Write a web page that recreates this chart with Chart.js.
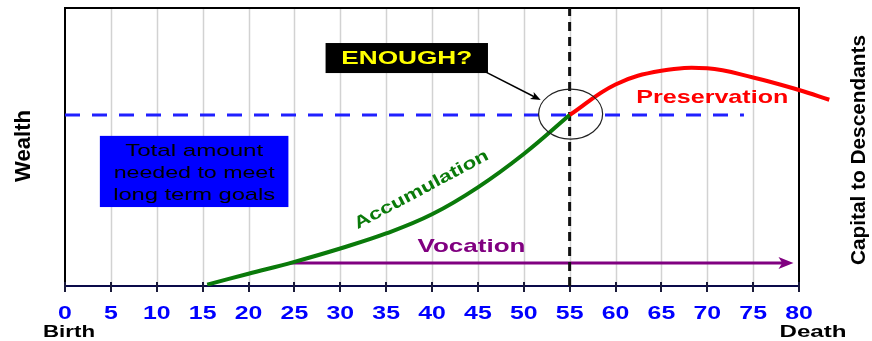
<!DOCTYPE html>
<html>
<head>
<meta charset="utf-8">
<script src="https://cdn.jsdelivr.net/npm/chart.js@4/dist/chart.umd.min.js"></script>
<style>
  html, body { margin: 0; padding: 0; background: #ffffff; }
  #wrap { width: 872px; height: 341px; }
</style>
</head>
<body>
<div id="wrap"><canvas id="c" width="872" height="341"></canvas></div>
<script>
// Age axis ticks (years)
const AGE_TICKS = [0, 5, 10, 15, 20, 25, 30, 35, 40, 45, 50, 55, 60, 65, 70, 75, 80];
// The preservation curve runs a little past the frame, so the scale reaches beyond 80
const AGE_SCALE_MAX = 84;

// Accumulation phase: wealth built up from first earnings to retirement
const ACCUM_AGES   = [15.5, 20, 25, 30, 35, 40, 45, 50, 55];
const ACCUM_WEALTH = [0.5, 4.4, 8.7, 13.5, 18.9, 25.8, 35.5, 47.5, 61.5];

// Preservation phase: after retirement, capital kept and passed on
const PRESERV_AGES   = [55, 60, 65, 70, 75, 80, 83.3];
const PRESERV_WEALTH = [61.5, 72.5, 77.4, 78.3, 75, 70.5, 67];

// Target capital ("total amount needed") and the age span it is drawn over
const GOAL_WEALTH = 61.5;
const GOAL_AGES = [0, 74];

// Retirement age (vertical marker)
const RETIRE_AGE = 55;
const WEALTH_RANGE = [0, 100];

// Working years (vocation arrow)
const VOCATION_AGES = [24.5, 79.4];
const VOCATION_LEVEL = 8.3;

const zip = (xs, ys) => xs.map((x, i) => ({ x, y: ys[i] }));

const FONT = '"Liberation Sans", Arial, sans-serif';

// Text drawn to a given width (the artwork uses wide, stretched lettering)
function fitText(ctx, str, x, y, width, font, color, angle) {
  ctx.save();
  ctx.translate(x, y);
  if (angle) ctx.rotate(angle);
  ctx.font = font;
  const m = ctx.measureText(str).width;
  ctx.scale(width / m, 1);
  ctx.textAlign = 'center';
  ctx.textBaseline = 'middle';
  ctx.fillStyle = color;
  ctx.fillText(str, 0, 0);
  ctx.restore();
}

function arrowHead(ctx, x, y, angle, len, half, color) {
  ctx.save();
  ctx.translate(x, y);
  ctx.rotate(angle);
  ctx.beginPath();
  ctx.moveTo(0, 0);
  ctx.lineTo(-len, -half);
  ctx.lineTo(-len * 0.75, 0);
  ctx.lineTo(-len, half);
  ctx.closePath();
  ctx.fillStyle = color;
  ctx.fill();
  ctx.restore();
}

const frameAndAxis = {
  id: 'frameAndAxis',
  beforeDatasetsDraw(chart) {
    const { ctx, chartArea: a, scales: { x } } = chart;
    const left = x.getPixelForValue(AGE_TICKS[0]);
    const right = x.getPixelForValue(AGE_TICKS[AGE_TICKS.length - 1]);
    ctx.save();
    // vertical grid lines
    ctx.strokeStyle = '#d2d2d2';
    ctx.lineWidth = 1.5;
    AGE_TICKS.slice(1, -1).forEach(v => {
      const px = Math.round(x.getPixelForValue(v)) + 0.5;
      ctx.beginPath();
      ctx.moveTo(px, a.top);
      ctx.lineTo(px, a.bottom);
      ctx.stroke();
    });
    // plot frame
    ctx.strokeStyle = '#000000';
    ctx.lineWidth = 2;
    ctx.beginPath();
    ctx.moveTo(left, a.bottom + 4);
    ctx.lineTo(left, a.top);
    ctx.lineTo(right, a.top);
    ctx.lineTo(right, a.bottom + 4);
    ctx.stroke();
    // base axis line
    ctx.strokeStyle = '#0a0a4a';
    ctx.lineWidth = 2;
    ctx.beginPath();
    ctx.moveTo(left, a.bottom);
    ctx.lineTo(right, a.bottom);
    ctx.stroke();
    // tick marks crossing the axis
    ctx.strokeStyle = '#1a1a3a';
    ctx.lineWidth = 2;
    AGE_TICKS.forEach(v => {
      const px = Math.round(x.getPixelForValue(v));
      ctx.beginPath();
      ctx.moveTo(px, a.bottom - 4);
      ctx.lineTo(px, a.bottom + 6);
      ctx.stroke();
    });
    // tick labels
    AGE_TICKS.forEach(v => {
      const px = x.getPixelForValue(v);
      ctx.font = 'bold 18px ' + FONT;
      const w = ctx.measureText(String(v)).width * 1.38;
      fitText(ctx, String(v), px, a.bottom + 28, w, 'bold 18px ' + FONT, '#0000ff');
    });
    ctx.restore();
  },
  afterDatasetsDraw(chart) {
    const { ctx, scales: { x, y } } = chart;
    const P = (age, w) => [x.getPixelForValue(age), y.getPixelForValue(w)];
    ctx.save();

    // "Total amount needed" box
    const [bx0, by0] = P(3.8, 54);
    const [bx1, by1] = P(24.35, 28.4);
    ctx.fillStyle = '#0000ff';
    ctx.fillRect(bx0, by0, bx1 - bx0, by1 - by0);
    const cx = (bx0 + bx1) / 2;
    fitText(ctx, 'Total amount', cx, by0 + 15, 138, '17px ' + FONT, '#000000');
    fitText(ctx, 'needed to meet', cx, by0 + 37, 161, '17px ' + FONT, '#000000');
    fitText(ctx, 'long term goals', cx, by0 + 59, 162, '17px ' + FONT, '#000000');

    // ENOUGH? callout
    const [ex0, ey0] = P(28.4, 87.4);
    const [ex1, ey1] = P(46.1, 76.6);
    ctx.fillStyle = '#000000';
    ctx.fillRect(ex0, ey0, ex1 - ex0, ey1 - ey0);
    fitText(ctx, 'ENOUGH?', (ex0 + ex1) / 2, (ey0 + ey1) / 2 + 1, 131, 'bold 19px ' + FONT, '#ffff00');

    // pointer to the crossing point
    const [ax0, ay0] = [ex1 - 2, ey1 - 1];
    const [ax1, ay1] = P(51.85, 66.9);
    ctx.strokeStyle = '#000000';
    ctx.lineWidth = 1.5;
    ctx.beginPath();
    ctx.moveTo(ax0, ay0);
    ctx.lineTo(ax1 - 4, ay1 - 2);
    ctx.stroke();
    arrowHead(ctx, ax1, ay1, Math.atan2(ay1 - ay0, ax1 - ax0), 10, 4, '#000000');

    // circle at the goal / retirement crossing
    const [ccx, ccy] = P(RETIRE_AGE, GOAL_WEALTH);
    ctx.strokeStyle = '#222222';
    ctx.lineWidth = 1.2;
    ctx.beginPath();
    ctx.ellipse(ccx + 1, ccy - 1, 32, 25, 0, 0, Math.PI * 2);
    ctx.stroke();

    // vocation arrow head
    const [vx, vy] = P(VOCATION_AGES[1], VOCATION_LEVEL);
    arrowHead(ctx, vx, vy, 0, 15, 6, '#800080');

    // phase labels
    const [acx, acy] = P(38.85, 34.6);
    fitText(ctx, 'Accumulation', acx, acy, 150, 'bold 17px ' + FONT, '#0a7a0a', -0.49);
    const [vcx, vcy] = P(44.3, 14.2);
    fitText(ctx, 'Vocation', vcx, vcy, 108, 'bold 19px ' + FONT, '#800080');
    const [pcx, pcy] = P(70.55, 67.6);
    fitText(ctx, 'Preservation', pcx, pcy, 152, 'bold 19px ' + FONT, '#ff0000');

    // outer axis titles
    fitText(ctx, 'Wealth', 24, 146, 72, 'bold 22px ' + FONT, '#000000', -Math.PI / 2);
    fitText(ctx, 'Capital to Descendants', 859, 150, 230, 'bold 21px ' + FONT, '#000000', -Math.PI / 2);
    fitText(ctx, 'Birth', 69, 332, 52, 'bold 17px ' + FONT, '#000000');
    fitText(ctx, 'Death', 813, 332, 67, 'bold 17px ' + FONT, '#000000');

    ctx.restore();
  }
};

new Chart(document.getElementById('c'), {
  type: 'scatter',
  data: {
    datasets: [
      {
        label: 'Accumulation',
        data: zip(ACCUM_AGES, ACCUM_WEALTH),
        showLine: true,
        borderColor: '#0a7a0a',
        borderWidth: 4,
        tension: 0.4,
        pointRadius: 0
      },
      {
        label: 'Preservation',
        data: zip(PRESERV_AGES, PRESERV_WEALTH),
        showLine: true,
        borderColor: '#ff0000',
        borderWidth: 4,
        tension: 0.4,
        pointRadius: 0
      },
      {
        label: 'Retirement',
        data: zip([RETIRE_AGE, RETIRE_AGE], WEALTH_RANGE),
        showLine: true,
        borderColor: '#111111',
        borderWidth: 3,
        borderDash: [9, 6],
        pointRadius: 0
      },
      {
        label: 'Goal',
        data: zip(GOAL_AGES, [GOAL_WEALTH, GOAL_WEALTH]),
        showLine: true,
        borderColor: '#2020ff',
        borderWidth: 3,
        borderDash: [15, 12],
        pointRadius: 0
      },
      {
        label: 'Vocation',
        data: zip(VOCATION_AGES.map((v, i) => i ? v - 10 / 9.16 : v), [VOCATION_LEVEL, VOCATION_LEVEL]),
        showLine: true,
        borderColor: '#800080',
        borderWidth: 3,
        pointRadius: 0
      }
    ]
  },
  options: {
    responsive: false,
    devicePixelRatio: 1,
    animation: false,
    // 80 years span 65px..799px; the scale continues to 84 for the trailing curve
    layout: { padding: { left: 65, right: 872 - (65 + AGE_SCALE_MAX * 734 / 80), top: 8, bottom: 0 } },
    plugins: { legend: { display: false }, tooltip: { enabled: false } },
    scales: {
      x: {
        type: 'linear',
        min: AGE_TICKS[0],
        max: AGE_SCALE_MAX,
        ticks: { display: false },
        grid: { display: false },
        border: { display: false },
        afterFit(scale) { scale.height = 55; }
      },
      y: {
        display: false,
        min: WEALTH_RANGE[0],
        max: WEALTH_RANGE[1]
      }
    }
  },
  plugins: [frameAndAxis]
});
</script>
</body>
</html>
